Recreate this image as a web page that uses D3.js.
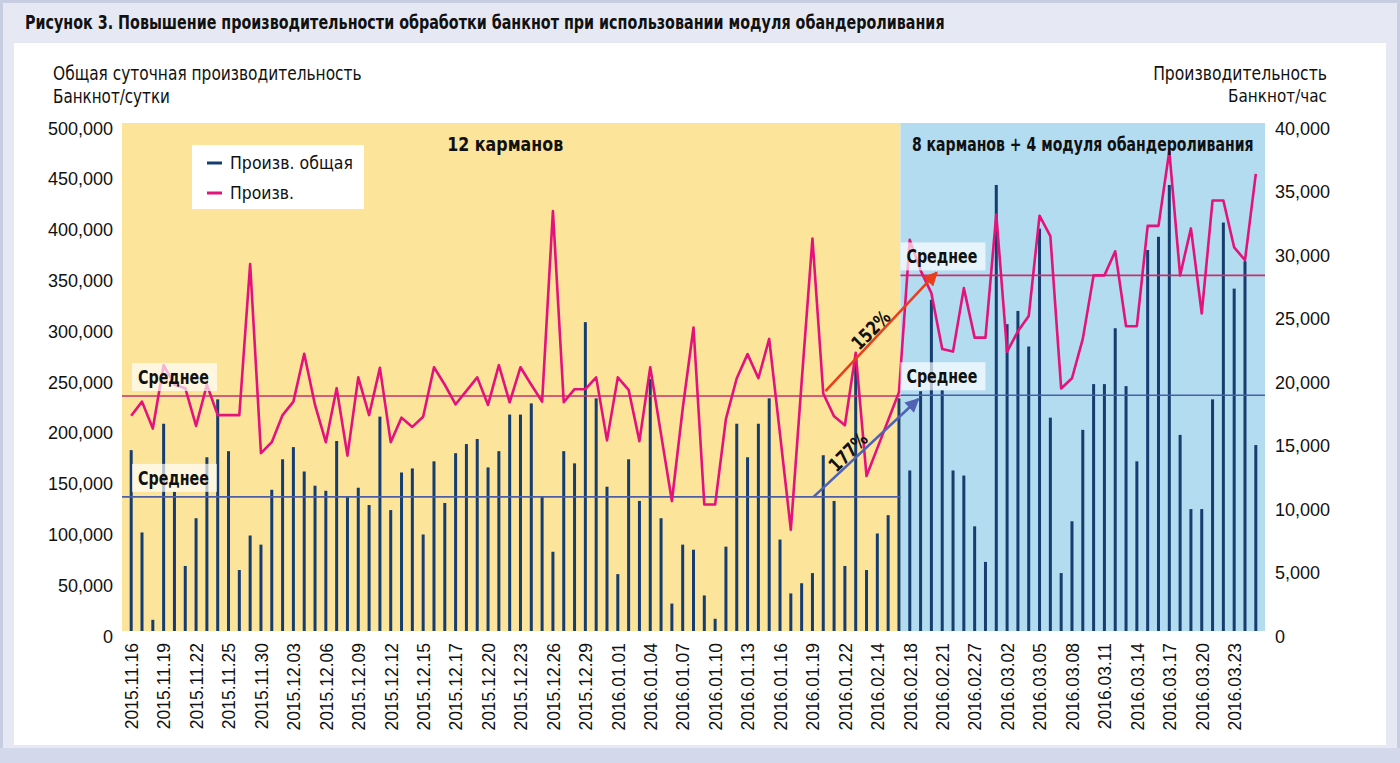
<!DOCTYPE html>
<html><head><meta charset="utf-8">
<script src="https://cdn.jsdelivr.net/npm/d3@7"></script>
<style>
body{margin:0;background:#fff;}
svg{display:block;}
</style></head><body>
<svg id="c" width="1400" height="763"></svg>
<script>
// ---------- DATA ----------
const dates = [
"2015.11.16","2015.11.17","2015.11.18","2015.11.19","2015.11.20","2015.11.21","2015.11.22","2015.11.23","2015.11.24","2015.11.25",
"2015.11.26","2015.11.27","2015.11.30","2015.12.01","2015.12.02","2015.12.03","2015.12.04","2015.12.05","2015.12.06","2015.12.07",
"2015.12.08","2015.12.09","2015.12.10","2015.12.11","2015.12.12","2015.12.13","2015.12.14","2015.12.15","2015.12.16","2015.12.16",
"2015.12.17","2015.12.18","2015.12.19","2015.12.20","2015.12.21","2015.12.22","2015.12.23","2015.12.24","2015.12.25","2015.12.26",
"2015.12.27","2015.12.28","2015.12.29","2015.12.30","2015.12.31","2016.01.01","2016.01.02","2016.01.03","2016.01.04","2016.01.05",
"2016.01.06","2016.01.07","2016.01.08","2016.01.09","2016.01.10","2016.01.11","2016.01.12","2016.01.13","2016.01.14","2016.01.15",
"2016.01.16","2016.01.17","2016.01.18","2016.01.19","2016.01.20","2016.01.21","2016.01.22","2016.01.23","2016.02.13","2016.02.14",
"2016.02.15","2016.02.16","2016.02.18","2016.02.19","2016.02.20","2016.02.21","2016.02.22","2016.02.25","2016.02.27","2016.02.28",
"2016.03.01","2016.03.02","2016.03.03","2016.03.04","2016.03.05","2016.03.06","2016.03.07","2016.03.08","2016.03.09","2016.03.10",
"2016.03.11","2016.03.12","2016.03.13","2016.03.14","2016.03.15","2016.03.16","2016.03.17","2016.03.18","2016.03.19","2016.03.20",
"2016.03.21","2016.03.22","2016.03.23","2016.03.24","2016.03.25"];

// Произв. общая (банкнот/сутки), left axis
const totalDaily = [
178000, 97000, 11000,204000,137000, 64000,111000,171000,228000,177000,
 60000, 94000, 85000,139000,169000,181000,157000,143000,138000,187000,
132000,141000,124000,211000,119000,156000,160000, 95000,167000,126000,
175000,184000,189000,161000,177000,213000,213000,224000,132000, 78000,
177000,165000,304000,229000,142000, 56000,169000,128000,248000,111000,
 27000, 85000, 80000, 35000, 12000, 83000,204000,171000,204000,229000,
 90000, 37000, 47000, 57000,173000,128000, 64000,272000, 60000, 96000,
114000,229000,158000,236000,326000,237000,158000,153000,103000, 68000,
439000,302000,315000,280000,396000,210000, 57000,108000,198000,243000,
243000,298000,241000,167000,375000,388000,439000,193000,120000,120000,
228000,402000,337000,364000,183000];

// Произв. (банкнот/час), right axis
const perHour = [
16950,18060,15940,20930,19390,19120,16150,19390,17000,17000,
17000,28900,14000,14870,17000,18060,21830,17800,14870,19120,
13810,19970,17000,20720,14870,16800,16070,16870,20770,19390,
17850,18910,19970,17800,20930,18010,20770,19390,18060,33070,
18010,19040,19040,19970,15010,19970,18990,14950,20770,15480,
10230,17500,23900, 9960, 9960,16700,19900,21800,19900,23000,
15500, 7970,19600,30900,18700,16900,16200,21900,12200,14400,
16600,18800,30800,28400,26600,22200,22000,27000,23100,23100,
32800,22000,23600,24800,32700,31100,19100,19900,23000,28000,
28000,29900,24000,24000,31900,31900,37800,28000,31700,25000,
33900,33900,30200,29200,36000];

const avgTotal = [132000, 232000];   // Среднее, банкнот/сутки (до / после)
const avgRate  = [18500, 28000];     // Среднее, банкнот/час (до / после)
const gainLabels = ["177%", "152%"];
const periodTitles = ["12 карманов", "8 карманов + 4 модуля обандероливания"];
const splitIndex = 71;
const leftTicks = d3.range(0, 500001, 50000);
const rightTicks = d3.range(0, 40001, 5000);
const labelEvery = 3;
const seriesNames = ["Произв. общая", "Произв."];

// ---------- LAYOUT ----------
const NARROW = "'Liberation Sans Narrow','Arial Narrow','DejaVu Sans Condensed',sans-serif";
const REG = "'Liberation Sans',Arial,sans-serif";
const svg = d3.select("#c");
const P = {l:122, r:1265, t:123, b:631};

// condensed text: real glyphs scaled horizontally to the reference width
function fitText(x0, y0, str, len, opt){
  opt = opt || {};
  const t = svg.append("text").text(str).attr("text-anchor",opt.anchor||"start")
    .attr("font-family",NARROW).attr("font-weight",opt.weight||"normal").attr("font-size",opt.size||19)
    .attr("fill","#111");
  if (opt.dy) t.attr("dy",opt.dy);
  const w = t.node().getComputedTextLength() || len;
  const sx = len / w;
  t.attr("transform",`translate(${x0},${y0})${opt.rot?` rotate(${opt.rot})`:""} scale(${sx},1)`);
  return t;
}

svg.append("rect").attr("width",1400).attr("height",763).attr("fill","#e6e9f4");
svg.append("rect").attr("x",1.5).attr("y",1.5).attr("width",1397).attr("height",760)
  .attr("fill","none").attr("stroke","#c7cee2").attr("stroke-width",3);
svg.append("rect").attr("x",14).attr("y",43).attr("width",1372).attr("height",702).attr("fill","#ffffff");
svg.append("rect").attr("x",0).attr("y",748).attr("width",1400).attr("height",15).attr("fill","#d3d9ea");

fitText(25,29,"Рисунок 3. Повышение производительности обработки банкнот при использовании модуля обандероливания",920,{weight:"bold",size:20});

const idx = d3.range(dates.length);
const x = d3.scalePoint().domain(idx).range([P.l, P.r]).padding(0.85);
const step = x.step();
const xi = i => x(0) + i*step;   // fractional index position
const yL = d3.scaleLinear().domain([0, 500000]).range([P.b, P.t]);
const yR = d3.scaleLinear().domain([0, 40000]).range([P.b, P.t]);
const xSplit = x(splitIndex) + 1.5;

// backgrounds
svg.append("rect").attr("x",P.l).attr("y",P.t).attr("width",xSplit-P.l).attr("height",P.b-P.t).attr("fill","#fde49b");
svg.append("rect").attr("x",xSplit).attr("y",P.t).attr("width",P.r-xSplit).attr("height",P.b-P.t).attr("fill","#b3dcf1");

// axis titles
fitText(53,80,"Общая суточная производительность",309);
fitText(53,103,"Банкнот/сутки",117);
fitText(1327,80,"Производительность",174,{anchor:"end"});
fitText(1327,102,"Банкнот/час",99,{anchor:"end",size:18});

// axes
const axL = svg.append("g").attr("transform",`translate(${P.l-9},0)`)
  .call(d3.axisLeft(yL).tickValues(leftTicks).tickFormat(d3.format(",")).tickSize(0).tickPadding(0));
const axR = svg.append("g").attr("transform",`translate(${P.r+10},0)`)
  .call(d3.axisRight(yR).tickValues(rightTicks).tickFormat(d3.format(",")).tickSize(0).tickPadding(0));
[axL,axR].forEach(a=>{a.select(".domain").remove();
  a.selectAll("text").attr("font-family",REG).attr("font-size",18).attr("fill","#111").attr("dy","0.62em");});

const axB = svg.append("g").attr("transform",`translate(0,${P.b})`)
  .call(d3.axisBottom(x).tickValues(idx.filter(i=>i%labelEvery===0)).tickFormat(i=>dates[i]).tickSize(0));
axB.select(".domain").remove();
axB.selectAll("text").attr("font-family",REG).attr("font-size",17.5).attr("fill","#111")
  .attr("text-anchor","end").attr("transform","translate(0,12) rotate(-90)").attr("x",0).attr("y",0).attr("dy","0.36em");

// bars
svg.append("g").selectAll("rect").data(totalDaily).join("rect")
  .attr("x",(d,i)=>x(i)-1.5).attr("width",3)
  .attr("y",d=>yL(d)).attr("height",d=>yL(0)-yL(d)).attr("fill","#163d70");

// average lines
const segs = [[P.l, xSplit],[xSplit, P.r]];
avgTotal.forEach((v,k)=>svg.append("line").attr("x1",segs[k][0]).attr("x2",segs[k][1])
  .attr("y1",yL(v)).attr("y2",yL(v)).attr("stroke","#4b5fa9").attr("stroke-width",1.6));
avgRate.forEach((v,k)=>svg.append("line").attr("x1",segs[k][0]).attr("x2",segs[k][1])
  .attr("y1",yR(v)).attr("y2",yR(v)).attr("stroke","#c8306d").attr("stroke-width",1.6));

// hourly line
svg.append("path").datum(perHour).attr("fill","none").attr("stroke","#e3137b").attr("stroke-width",2.6)
  .attr("stroke-linejoin","round")
  .attr("d",d3.line().x((d,i)=>x(i)).y(d=>yR(d)));

// "Среднее" labels
function avgLabel(x0, yc){
  svg.append("rect").attr("x",x0).attr("y",yc-14).attr("width",85).attr("height",28)
    .attr("fill","#ffffff").attr("opacity",0.68);
  fitText(x0+6, yc+7, "Среднее", 71, {weight:"bold",size:19});
}
avgLabel(132, yR(avgRate[0])-19);
avgLabel(132, yL(avgTotal[0])-19);
avgLabel(xSplit, yR(avgRate[1])-19);
avgLabel(xSplit, yL(avgTotal[1])-19);

// arrows
const defs = svg.append("defs");
function marker(id,color){
  defs.append("marker").attr("id",id).attr("viewBox","0 0 10 10").attr("refX",9).attr("refY",5)
    .attr("markerWidth",17).attr("markerHeight",14).attr("markerUnits","userSpaceOnUse").attr("orient","auto")
    .append("path").attr("d","M0,0 L10,5 L0,10 z").attr("fill",color);
}
marker("mb","#5062b4"); marker("mr","#ea3f1d");
svg.append("line").attr("x1",xi(63.1)).attr("y1",yL(avgTotal[0])).attr("x2",xi(72.8)).attr("y2",yR(avgRate[0])+3)
  .attr("stroke","#5062b4").attr("stroke-width",2.6).attr("marker-end","url(#mb)");
svg.append("line").attr("x1",xi(64.2)).attr("y1",yR(avgRate[0])-5).attr("x2",xi(74.5)).attr("y2",yR(avgRate[1])-3)
  .attr("stroke","#ea3f1d").attr("stroke-width",2.6).attr("marker-end","url(#mr)");
fitText(xi(66.3), 452, gainLabels[0], 46, {anchor:"middle",weight:"bold",size:19,dy:"0.35em",rot:-45});
fitText(xi(68.4), 330, gainLabels[1], 46, {anchor:"middle",weight:"bold",size:19,dy:"0.35em",rot:-45});

// period titles
fitText((P.l+xSplit)/2-6,151,periodTitles[0],116,{anchor:"middle",weight:"bold",size:19});
fitText((xSplit+P.r)/2,151,periodTitles[1],342,{anchor:"middle",weight:"bold",size:19});

// legend
const lg = svg.append("g");
svg.append("rect").attr("x",192).attr("y",145).attr("width",172).attr("height",64).attr("fill","#fff");
[["#163d70",163],["#e3137b",193]].forEach((c,k)=>{
  svg.append("line").attr("x1",207).attr("x2",222).attr("y1",c[1]).attr("y2",c[1]).attr("stroke",c[0]).attr("stroke-width",3);
  fitText(230, c[1]+6, seriesNames[k], k?64:123, {size:18});
});
</script>
</body></html>
